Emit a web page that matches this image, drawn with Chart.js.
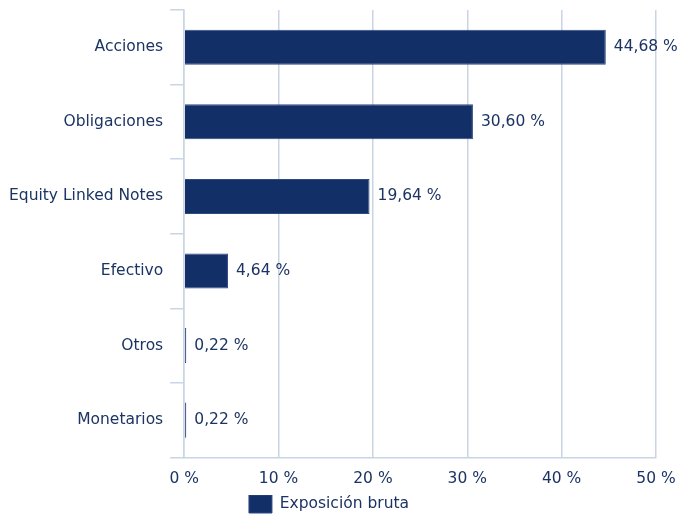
<!DOCTYPE html>
<html>
<head>
<meta charset="utf-8">
<script src="https://cdn.jsdelivr.net/npm/chart.js@4"></script>
<style>
  body { margin: 0; background: #fff; }
  #wrap { width: 680px; height: 520px; }
</style>
</head>
<body>
<div id="wrap"><canvas id="myChart"></canvas></div>
<script>
const categories = ['Acciones', 'Obligaciones', 'Equity Linked Notes', 'Efectivo', 'Otros', 'Monetarios'];
const exposicion = [44.68, 30.60, 19.64, 4.64, 0.22, 0.22];
const xTicks = [0, 10, 20, 30, 40, 50];
const seriesName = 'Exposición bruta';

const navy = '#132f68';
const textColor = '#1b3463';
const gridColor = '#c9d4e4';
const fontSpec = { family: 'DejaVu Sans', size: 15.5 };

let fmt = function (v) {
    return v.toFixed(2).replace('.', ',') + ' %';
};

// labels at the end of each bar
const valueLabels = {
    id: 'valueLabels',
    afterDatasetsDraw(chart) {
        const ctx = chart.ctx;
        const meta = chart.getDatasetMeta(0);
        ctx.save();
        ctx.font = '15.5px "DejaVu Sans"';
        ctx.fillStyle = textColor;
        ctx.textAlign = 'left';
        ctx.textBaseline = 'middle';
        meta.data.forEach(function (bar, i) {
            ctx.fillText(fmt(exposicion[i]), bar.x + 8, bar.y);
        });
        ctx.restore();
    }
};

const ctx = document.getElementById('myChart').getContext('2d');
let myChart = new Chart(ctx, {
    type: 'bar',
    data: {
        labels: categories,
        datasets: [{
            label: seriesName,
            data: exposicion,
            backgroundColor: navy,
            borderColor: '#2e4b80',
            borderWidth: 1,
            borderSkipped: 'left',
            barPercentage: 0.47,
            categoryPercentage: 1
        }]
    },
    options: {
        indexAxis: 'y',
        responsive: true,
        maintainAspectRatio: false,
        animation: false,
        layout: {
            padding: { top: 10, right: 24, left: 2, bottom: -3 }
        },
        plugins: {
            legend: {
                position: 'bottom',
                labels: {
                    boxWidth: 23,
                    boxHeight: 18,
                    color: textColor,
                    font: fontSpec,
                    padding: 0
                }
            },
            tooltip: { enabled: false }
        },
        scales: {
            x: {
                min: 0,
                max: 50,
                afterBuildTicks: function (axis) {
                    axis.ticks = xTicks.map(function (v) { return { value: v }; });
                },
                afterFit: function (axis) {
                    axis.paddingRight = 0;
                    axis.height -= 5;
                },
                ticks: {
                    color: textColor,
                    font: fontSpec,
                    padding: 12,
                    maxRotation: 0,
                    callback: function (v) { return v + ' %'; }
                },
                grid: {
                    color: gridColor,
                    lineWidth: 1.5,
                    drawTicks: false
                },
                border: { color: gridColor, width: 1.5 }
            },
            y: {
                afterFit: function (axis) {
                    axis.paddingTop = 0;
                    axis.paddingBottom = 0;
                },
                ticks: {
                    color: textColor,
                    font: fontSpec,
                    padding: 7
                },
                grid: {
                    color: gridColor,
                    lineWidth: 1.5,
                    drawOnChartArea: false,
                    tickLength: 14,
                    offset: true
                },
                border: { color: gridColor, width: 1.5 }
            }
        }
    },
    plugins: [valueLabels]
});
</script>
</body>
</html>
